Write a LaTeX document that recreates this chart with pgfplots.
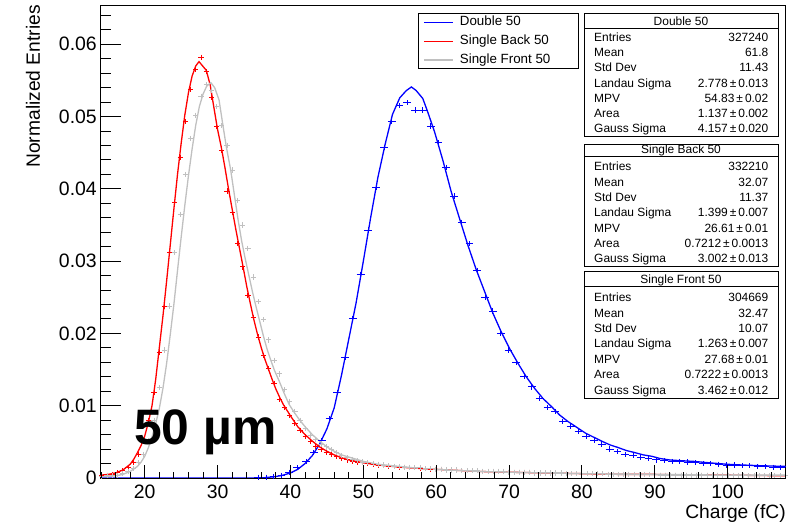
\documentclass[border=0pt]{standalone}
\usepackage{pgfplots}
\pgfplotsset{compat=1.18}
\usepackage{fontspec}
\setmainfont{Liberation Sans}
\definecolor{rblue}{RGB}{0,0,255}
\definecolor{rred}{RGB}{255,0,0}
\definecolor{rgray}{RGB}{192,192,192}
\newcommand{\statfont}{\fontsize{12}{12}\selectfont}
\newcommand{\statrow}[3]{%
  \node[anchor=base west, inner sep=0pt, font=\statfont] at (594,#1) {#2};
  \node[anchor=base east, inner sep=0pt, font=\statfont] at (768.5,#1) {#3};}
\newcommand{\pmv}[2]{#1\thinspace ±\thinspace #2}
\pgfplotsset{
  hist/.style n args={2}{color=#2, draw=#2, only marks, mark=+, mark size=2.6bp,
    mark options={solid, draw=#2, line width=0.9bp, xscale=#1}},
  fit/.style={color=#1, draw=#1, no marks, line width=1.3bp},
}
\begin{document}
\begin{tikzpicture}
\begin{axis}[
  at={(0,0)}, anchor=south west, scale only axis, width=685bp, height=472bp,
  xmin=14, xmax=108, ymin=0, ymax=0.0653,
  axis line style={line width=1bp},
  tick style={black, line width=1bp},
  xtick=\empty,
  ytick={0,0.01,0.02,0.03,0.04,0.05,0.06},
  yticklabels={0,0.01,0.02,0.03,0.04,0.05,0.06},
  minor ytick={0.002,0.004,0.006,0.008,0.012,0.014,0.016,0.018,0.022,0.024,0.026,0.028,0.032,0.034,0.036,0.038,0.042,0.044,0.046,0.048,0.052,0.054,0.056,0.058,0.062,0.064},
  major tick length=20bp, minor tick length=10bp,
  ytick pos=left, scaled y ticks=false,
  yticklabel style={font=\fontsize{19.5}{19.5}\selectfont, anchor=east, inner sep=0pt, xshift=-4bp},
  ylabel={Normalized Entries},
  every axis y label/.style={at={(rel axis cs:-0.0993,1.0021)}, rotate=90, anchor=east, inner sep=0pt, font=\fontsize{19.3}{19.3}\selectfont},
  legend cell align=left,
  legend style={at={(0.4632,0.9845)}, anchor=north west, draw=black, line width=0.8bp,
    inner xsep=4.7bp, inner ysep=2.5bp, row sep=6.1bp,
    font=\fontsize{13.4}{13.4}\selectfont,
    nodes={inner sep=0pt, text height=9.6bp, text depth=3bp},
    /tikz/every odd column/.append style={column sep=6.6bp}},
  legend image code/.code={\draw[#1, line width=1.2bp] (0bp,0bp) -- (28.7bp,0bp);},
]
% ---------- Double 50 (blue) ----------
\addplot[hist={1.5}{rblue}, forget plot] table {
35.56 0.0001
36.64 0.0001
37.71 0.0002
38.78 0.0004
39.85 0.0008
40.93 0.0014
42.15 0.0023
43.22 0.0035
44.29 0.0052
45.35 0.0082
46.42 0.0118
47.49 0.0167
48.56 0.0221
49.63 0.0282
50.69 0.0343
51.76 0.0402
52.83 0.0457
53.90 0.0493
54.97 0.0515
56.03 0.0519
57.10 0.0509
58.17 0.0509
59.24 0.0487
60.31 0.0464
61.37 0.0430
62.44 0.0390
63.51 0.0354
64.58 0.0324
65.65 0.0287
66.71 0.0250
67.78 0.0231
68.85 0.0200
69.92 0.0177
70.99 0.0160
72.05 0.0140
73.12 0.0126
74.19 0.0110
75.26 0.0097
76.33 0.0092
77.39 0.0078
78.46 0.0072
79.53 0.0065
80.60 0.0058
81.66 0.0052
82.73 0.0047
83.80 0.0040
84.87 0.0037
85.94 0.0033
87.01 0.0031
88.07 0.0028
89.14 0.0027
90.21 0.0025
91.28 0.0024
92.35 0.0023
93.42 0.0023
94.48 0.0022
95.55 0.0021
96.62 0.0020
97.69 0.0020
98.76 0.0019
99.83 0.0018
100.89 0.0018
101.96 0.0017
103.03 0.0017
104.10 0.0016
105.17 0.0016
106.24 0.0015
107.30 0.0015
};
\addplot[fit=rblue] table {
14.0 0.0
36.0 0.0
37.0 0.0001
38.0 0.0002
39.0 0.0004
40.0 0.0007
41.0 0.0012
42.0 0.0020
43.0 0.0031
44.0 0.0047
45.0 0.0068
46.0 0.0097
47.0 0.0142
48.0 0.0192
49.0 0.0242
50.0 0.0300
51.0 0.0360
52.0 0.0416
53.0 0.0462
54.0 0.0503
55.0 0.0526
55.9 0.0536
56.6 0.0541
57.25 0.0536
58.16 0.0525
58.85 0.0506
59.77 0.0479
60.9 0.0440
62.06 0.0396
63.2 0.0359
64.35 0.0322
65.5 0.0288
66.64 0.0258
67.78 0.0228
68.93 0.0202
70.07 0.0179
71.2 0.0159
72.36 0.0140
73.5 0.0124
74.65 0.0110
75.8 0.0099
76.95 0.0087
78.1 0.0078
79.3 0.0070
80.5 0.0062
81.5 0.0057
82.7 0.0051
83.8 0.0046
85.0 0.0042
86.1 0.0038
87.3 0.0035
88.4 0.0032
89.6 0.0030
90.7 0.0027
92.0 0.0025
93.5 0.0024
95.3 0.0023
97.5 0.0021
99.9 0.0019
102.0 0.0018
104.5 0.0017
108.0 0.0016
};
\addlegendentry{\makebox[113.7bp][l]{Double 50}}
% ---------- Single Back 50 (red) ----------
\addplot[hist={1}{rred}, forget plot] table {
14.12 0.0003
14.83 0.0004
15.55 0.0005
16.26 0.0007
16.98 0.0010
17.70 0.0014
18.41 0.0021
19.13 0.0032
19.84 0.0050
20.56 0.0080
21.28 0.0119
21.99 0.0174
22.71 0.0238
23.42 0.0312
24.14 0.0381
24.86 0.0443
25.57 0.0493
26.29 0.0538
27.00 0.0565
27.72 0.0582
28.44 0.0562
29.15 0.0527
29.87 0.0486
30.58 0.0453
31.30 0.0397
32.02 0.0367
32.73 0.0324
33.45 0.0292
34.16 0.0252
34.88 0.0222
35.60 0.0195
36.31 0.0169
37.03 0.0152
37.74 0.0131
38.46 0.0109
39.18 0.0097
39.89 0.0086
40.61 0.0076
41.32 0.0066
42.04 0.0057
42.76 0.0050
43.47 0.0044
44.19 0.0039
44.90 0.0035
45.62 0.0033
46.33 0.0030
47.05 0.0027
47.77 0.0025
48.48 0.0023
49.20 0.0022
49.92 0.0021
50.63 0.0020
51.35 0.0019
52.06 0.0018
52.78 0.0017
53.50 0.0016
54.21 0.0016
54.93 0.0015
55.64 0.0015
56.36 0.0014
57.08 0.0014
57.79 0.0013
58.51 0.0013
59.22 0.0012
59.94 0.0012
60.66 0.0012
61.37 0.0011
62.09 0.0011
62.80 0.0011
63.52 0.0010
64.24 0.0010
64.95 0.0010
65.67 0.0010
66.38 0.0009
67.10 0.0009
67.82 0.0009
68.53 0.0009
69.25 0.0009
69.96 0.0008
70.68 0.0008
71.40 0.0008
72.11 0.0008
72.83 0.0008
73.54 0.0007
74.26 0.0007
74.98 0.0007
75.69 0.0007
76.41 0.0007
77.12 0.0007
77.84 0.0006
78.56 0.0006
79.27 0.0006
79.99 0.0006
80.70 0.0006
81.42 0.0006
82.14 0.0006
82.85 0.0006
83.57 0.0005
84.28 0.0005
85.00 0.0005
85.72 0.0005
86.43 0.0005
87.15 0.0005
87.86 0.0005
88.58 0.0005
89.30 0.0005
90.01 0.0005
90.73 0.0004
91.44 0.0004
92.16 0.0004
92.88 0.0004
93.59 0.0004
94.31 0.0004
95.02 0.0004
95.74 0.0004
96.46 0.0004
97.17 0.0004
97.89 0.0004
98.60 0.0004
99.32 0.0004
100.04 0.0004
100.75 0.0003
101.47 0.0003
102.18 0.0003
102.90 0.0003
103.62 0.0003
104.33 0.0003
105.05 0.0003
105.76 0.0003
106.48 0.0003
107.20 0.0003
107.91 0.0003
};
\addplot[fit=rred] table {
14.0 0.0004
15.0 0.0005
16.0 0.0007
17.0 0.0011
18.0 0.0019
18.5 0.0026
19.0 0.0035
19.5 0.0045
20.0 0.0058
20.5 0.0077
21.0 0.0100
21.5 0.0136
22.0 0.0180
22.5 0.0224
23.0 0.0272
23.5 0.0322
24.0 0.0372
24.5 0.0420
25.0 0.0463
25.5 0.0502
26.0 0.0533
26.5 0.0556
27.0 0.0570
27.45 0.0576
28.45 0.0564
29.0 0.0543
29.5 0.0512
30.0 0.0482
30.5 0.0458
31.0 0.0430
31.5 0.0400
32.0 0.0372
32.5 0.0344
33.0 0.0318
33.5 0.0292
34.0 0.0265
34.5 0.0241
35.0 0.0218
35.5 0.0198
36.0 0.0180
36.5 0.0164
37.0 0.0150
37.5 0.0136
38.0 0.0123
38.5 0.0112
39.0 0.0102
39.5 0.0094
40.0 0.0086
41.0 0.0071
42.0 0.0060
43.0 0.0051
44.0 0.0043
45.0 0.0037
46.0 0.0032
47.0 0.0028
48.0 0.0025
50.0 0.0021
52.0 0.0018
55.0 0.0015
58.0 0.0013
62.0 0.0011
66.0 0.0009
70.0 0.0008
75.0 0.0007
80.0 0.0006
85.0 0.0005
90.0 0.0005
95.0 0.0004
100.0 0.0004
108.0 0.0003
};
\addlegendentry{\makebox[113.7bp][l]{Single Back 50}}
% ---------- Single Front 50 (gray) ----------
\addplot[hist={1}{rgray}, forget plot] table {
14.12 0.0002
14.83 0.0003
15.55 0.0003
16.26 0.0004
16.98 0.0006
17.70 0.0009
18.41 0.0013
19.13 0.0021
19.84 0.0033
20.56 0.0052
21.28 0.0080
21.99 0.0125
22.71 0.0177
23.42 0.0238
24.14 0.0312
24.86 0.0365
25.57 0.0420
26.29 0.0470
27.00 0.0502
27.72 0.0528
28.44 0.0544
29.15 0.0536
29.87 0.0514
30.58 0.0488
31.30 0.0460
32.02 0.0426
32.73 0.0384
33.45 0.0350
34.16 0.0318
34.88 0.0278
35.60 0.0244
36.31 0.0219
37.03 0.0191
37.74 0.0163
38.46 0.0144
39.18 0.0122
39.89 0.0106
40.61 0.0092
41.32 0.0080
42.04 0.0069
42.76 0.0059
43.47 0.0053
44.19 0.0047
44.90 0.0043
45.62 0.0039
46.33 0.0035
47.05 0.0031
47.77 0.0028
48.48 0.0026
49.20 0.0024
49.92 0.0022
50.63 0.0021
51.35 0.0020
52.06 0.0019
52.78 0.0018
53.50 0.0017
54.21 0.0016
54.93 0.0016
55.64 0.0015
56.36 0.0015
57.08 0.0014
57.79 0.0014
58.51 0.0013
59.22 0.0013
59.94 0.0012
60.66 0.0012
61.37 0.0011
62.09 0.0011
62.80 0.0011
63.52 0.0010
64.24 0.0010
64.95 0.0010
65.67 0.0010
66.38 0.0009
67.10 0.0009
67.82 0.0009
68.53 0.0009
69.25 0.0009
69.96 0.0008
70.68 0.0008
71.40 0.0008
72.11 0.0008
72.83 0.0008
73.54 0.0007
74.26 0.0007
74.98 0.0007
75.69 0.0007
76.41 0.0007
77.12 0.0007
77.84 0.0006
78.56 0.0006
79.27 0.0006
79.99 0.0006
80.70 0.0006
81.42 0.0006
82.14 0.0006
82.85 0.0006
83.57 0.0005
84.28 0.0005
85.00 0.0005
85.72 0.0005
86.43 0.0005
87.15 0.0005
87.86 0.0005
88.58 0.0005
89.30 0.0005
90.01 0.0005
90.73 0.0004
91.44 0.0004
92.16 0.0004
92.88 0.0004
93.59 0.0004
94.31 0.0004
95.02 0.0004
95.74 0.0004
96.46 0.0004
97.17 0.0004
97.89 0.0004
98.60 0.0004
99.32 0.0004
100.04 0.0004
100.75 0.0004
101.47 0.0004
102.18 0.0003
102.90 0.0003
103.62 0.0003
104.33 0.0003
105.05 0.0003
105.76 0.0003
106.48 0.0003
107.20 0.0003
107.91 0.0003
};
\addplot[fit=rgray] table {
14.0 0.0002
15.0 0.0002
16.0 0.0003
17.0 0.0005
18.0 0.0009
19.0 0.0016
19.5 0.0022
20.0 0.0030
20.5 0.0042
21.0 0.0057
21.5 0.0075
22.0 0.0096
22.5 0.0124
23.0 0.0158
23.5 0.0198
24.0 0.0240
24.5 0.0287
25.0 0.0333
25.5 0.0377
26.0 0.0418
26.5 0.0455
27.0 0.0488
27.5 0.0514
28.0 0.0531
28.5 0.0542
29.07 0.0547
29.6 0.0540
30.2 0.0523
30.7 0.0490
31.2 0.0458
31.8 0.0426
32.3 0.0392
32.8 0.0358
33.3 0.0328
33.8 0.0303
34.3 0.0280
34.8 0.0257
35.3 0.0236
35.8 0.0216
36.3 0.0196
36.8 0.0178
37.3 0.0163
37.8 0.0149
38.5 0.0133
39.1 0.0118
39.8 0.0102
40.5 0.0091
41.2 0.0081
42.0 0.0071
43.0 0.0060
44.0 0.0051
45.0 0.0043
46.0 0.0037
47.0 0.0032
48.0 0.0029
50.0 0.0023
52.0 0.0019
55.0 0.0016
58.0 0.0013
62.0 0.0011
66.0 0.0009
70.0 0.0008
75.0 0.0007
80.0 0.0006
90.0 0.0005
100.0 0.0004
108.0 0.0004
};
\addlegendentry{\makebox[113.7bp][l]{Single Front 50}}
\end{axis}
% second axis: x ticks, labels
\begin{axis}[
  at={(0,0)}, anchor=south west, scale only axis, width=685bp, height=472bp,
  xmin=14, xmax=108, ymin=0, ymax=0.0653,
  axis line style={draw=none},
  tick style={black, line width=1bp},
  ytick=\empty,
  xtick={20,30,40,50,60,70,80,90,100},
  xticklabels={20,30,40,50,60,70,80,90,100},
  minor xtick={14,16,...,108},
  major tick length=13bp, minor tick length=6.5bp,
  xtick pos=left,
  xticklabel style={font=\fontsize{19.5}{19.5}\selectfont, anchor=north, inner sep=0pt, yshift=-7bp},
  xlabel={Charge (fC)},
  every axis x label/.style={at={(rel axis cs:1,-0.0854)}, anchor=base east, inner sep=0pt, font=\fontsize{19.3}{19.3}\selectfont},
]
\end{axis}
\begin{scope}[x=1bp, y=-1bp, shift={(-101bp,478bp)}]
  \node[anchor=base west, inner sep=0pt, font=\fontsize{50}{50}\selectfont\bfseries] at (134,445) {50 µm};
  % Box 1
  \draw[line width=0.8bp, fill=white] (584,13.3) rectangle (778,136.7);
  \draw[line width=0.8bp] (584,28.3) -- (778,28.3);
  \node[anchor=base, inner sep=0pt, font=\statfont] at (681,25.2) {Double 50};
  \statrow{41.6}{Entries}{327240}
  \statrow{56.8}{Mean}{61.8}
  \statrow{71.9}{Std Dev}{11.43}
  \statrow{87.1}{Landau Sigma}{\pmv{2.778}{0.013}}
  \statrow{102.3}{MPV}{\pmv{54.83}{0.02}}
  \statrow{117.5}{Area}{\pmv{1.137}{0.002}}
  \statrow{132.6}{Gauss Sigma}{\pmv{4.157}{0.020}}
  % Box 2
  \draw[line width=0.8bp, fill=white] (584,144) rectangle (778,266);
  \draw[line width=0.8bp] (584,156.5) -- (778,156.5);
  \node[anchor=base, inner sep=0pt, font=\statfont] at (681,154) {Single Back 50};
  \statrow{171.0}{Entries}{332210}
  \statrow{186.3}{Mean}{32.07}
  \statrow{201.6}{Std Dev}{11.37}
  \statrow{216.9}{Landau Sigma}{\pmv{1.399}{0.007}}
  \statrow{232.2}{MPV}{\pmv{26.61}{0.01}}
  \statrow{247.5}{Area}{\pmv{0.7212}{0.0013}}
  \statrow{262.8}{Gauss Sigma}{\pmv{3.002}{0.013}}
  % Box 3
  \draw[line width=0.8bp, fill=white] (584,271) rectangle (778,398);
  \draw[line width=0.8bp] (584,286) -- (778,286);
  \node[anchor=base, inner sep=0pt, font=\statfont] at (681,283.3) {Single Front 50};
  \statrow{301.6}{Entries}{304669}
  \statrow{317.1}{Mean}{32.47}
  \statrow{332.5}{Std Dev}{10.07}
  \statrow{348.0}{Landau Sigma}{\pmv{1.263}{0.007}}
  \statrow{363.4}{MPV}{\pmv{27.68}{0.01}}
  \statrow{378.9}{Area}{\pmv{0.7222}{0.0013}}
  \statrow{394.3}{Gauss Sigma}{\pmv{3.462}{0.012}}
\end{scope}
\pgfresetboundingbox
\path (-101bp,-45bp) rectangle (701bp,478bp);
\end{tikzpicture}
\end{document}
